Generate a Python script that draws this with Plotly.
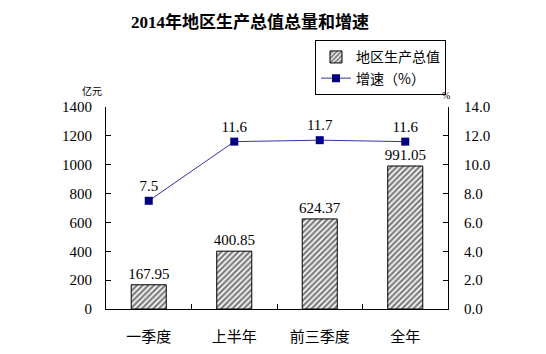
import plotly.graph_objects as go

categories = ["一季度", "上半年", "前三季度", "全年"]
gdp = [167.95, 400.85, 624.37, 991.05]
growth = [7.5, 11.6, 11.7, 11.6]
gdp_labels = ["167.95", "400.85", "624.37", "991.05"]
growth_labels = ["7.5", "11.6", "11.7", "11.6"]

FONT = "Liberation Serif, Noto Sans CJK SC"

fig = go.Figure()
fig.add_trace(go.Bar(
    x=categories, y=gdp, name="地区生产总值",
    width=0.41,
    marker=dict(color="white", line=dict(color="black", width=1),
                pattern=dict(shape="/", fgcolor="black", bgcolor="white", size=4, solidity=0.6)),
    text=gdp_labels, textposition="outside", cliponaxis=False, constraintext="none",
    textfont=dict(size=15, color="black", family=FONT),
))
fig.add_trace(go.Scatter(
    x=categories, y=growth, name="增速（%）", yaxis="y2",
    mode="lines+markers+text",
    line=dict(color="#3333aa", width=1),
    marker=dict(symbol="square", size=8, color="#000080"),
    text=growth_labels, textposition="top center",
    textfont=dict(size=15, color="black", family=FONT),
    cliponaxis=False,
))

fig.update_layout(
    width=546, height=354,
    margin=dict(l=106, r=98, t=107, b=45, autoexpand=False),
    paper_bgcolor="white", plot_bgcolor="white",
    font=dict(family=FONT, color="black", size=15),
    title=dict(text="<b>2014年地区生产总值总量和增速</b>", x=250/546, xanchor="center",
               y=1 - 22/354, yanchor="middle", font=dict(size=17, color="black", family=FONT)),
    showlegend=True,
    legend=dict(x=(446 - 106) / 342, y=1.33, xanchor="right", yanchor="top",
                bordercolor="black", borderwidth=1, bgcolor="white",
                font=dict(size=14, family="Noto Sans CJK SC"), tracegroupgap=2,
                itemwidth=30),
    xaxis=dict(showline=True, linecolor="black", linewidth=1, ticks="inside",
               tickson="boundaries", ticklen=5, tickcolor="black", automargin=False,
               tickfont=dict(size=15, family="Noto Sans CJK SC"), showgrid=False,
               ticklabelstandoff=14),
    yaxis=dict(range=[0, 1400], dtick=200, showline=True, linecolor="black", linewidth=1,
               ticks="inside", ticklen=5, tickcolor="black", showgrid=False, zeroline=False,
               automargin=False, tickfont=dict(size=15), ticklabelstandoff=10),
    yaxis2=dict(range=[0, 14], dtick=2, tickformat=".1f", overlaying="y", side="right",
                showline=True, linecolor="black", linewidth=1, ticks="inside", ticklen=5,
                tickcolor="black", showgrid=False, zeroline=False, automargin=False,
                tickfont=dict(size=15), ticklabelstandoff=12),
)
# unit labels placed by pixel position converted to paper coords
pw, ph = 546 - 106 - 98, 354 - 107 - 45
for txt, px, py, fam in [("亿元", 92, 91, "Noto Sans CJK SC"), ("%", 446, 96, FONT)]:
    fig.add_annotation(text=txt, x=(px - 106) / pw, y=(354 - 45 - py) / ph,
                       xref="paper", yref="paper", showarrow=False,
                       xanchor="center", yanchor="middle",
                       font=dict(size=10, family=fam))

fig.write_html("out.html")
